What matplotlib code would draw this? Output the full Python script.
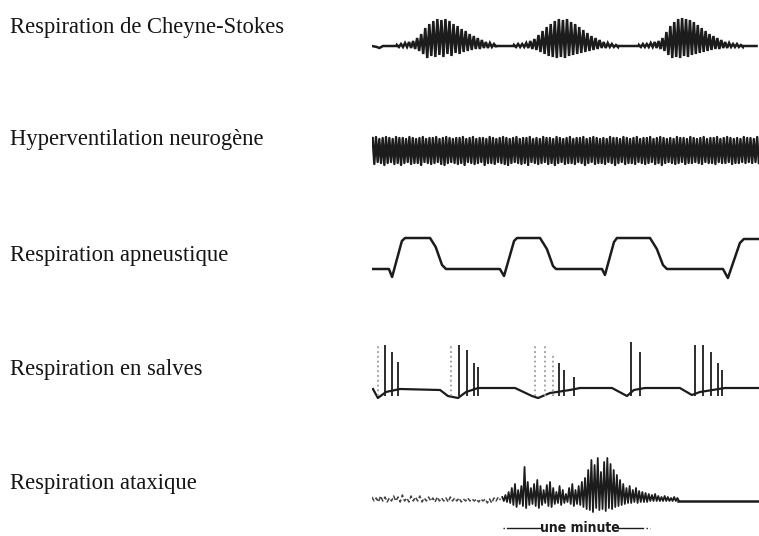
import numpy as np
import matplotlib.pyplot as plt

# libellés des cinq tracés
labels = ["Respiration de Cheyne-Stokes", "Hyperventilation neurogène",
          "Respiration apneustique", "Respiration en salves", "Respiration ataxique"]
label_y_px = [27, 140, 255, 369, 484]      # centre vertical des libellés
base_y_px = [46, 151, 269, 388, 500]       # ligne de base de chaque tracé

T_MAX = 158  # secondes visibles (une minute = 147 px)

# --- Cheyne-Stokes : trois salves, amplitude de chaque cycle (haut / bas)
cs_start = [10.6, 58.4, 109.4]
cs_end = [50.2, 100.0, 151.0]
cs_up = [
    [1, 2, 3, 4, 5, 8, 12, 18, 22, 25, 27, 26, 27, 25, 22, 20, 17, 15, 12, 10, 8, 6, 4, 3, 2],
    [1, 2, 2, 3, 5, 7, 11, 15, 19, 22, 25, 27, 26, 27, 24, 22, 19, 16, 13, 10, 8, 6, 4, 3, 2, 1],
    [1, 2, 2, 3, 4, 5, 8, 14, 20, 24, 27, 28, 27, 26, 24, 21, 18, 15, 12, 10, 8, 6, 4, 3, 2, 2, 1],
]
cs_down = [
    [1, 1, 1, 2, 3, 5, 8, 12, 10, 11, 9, 11, 8, 10, 7, 8, 6, 5, 4, 3, 3, 2, 2, 1, 1],
    [1, 1, 1, 2, 3, 4, 6, 8, 10, 11, 12, 11, 12, 10, 9, 8, 7, 6, 5, 4, 3, 2, 2, 1, 1, 1],
    [1, 1, 1, 1, 2, 3, 5, 9, 12, 11, 12, 10, 11, 9, 8, 7, 6, 5, 4, 3, 3, 2, 2, 1, 1, 1, 1],
]

# --- hyperventilation : cycles rapides et réguliers
hv_up = [13, 14, 12, 13, 14, 13, 12, 14, 13, 13, 12, 14, 13, 12, 13, 14, 12, 13, 13, 14,
         12, 13, 14, 13, 12, 13, 13, 14, 12, 13, 14, 12, 13, 13, 12, 14, 13, 12, 13, 14,
         13, 12, 13, 14, 12, 13, 13, 14, 12, 13, 12, 14, 13, 13, 12, 14, 13, 12, 13, 14,
         12, 13, 13, 14, 12, 13, 14, 13, 12, 13, 12, 14, 13, 13, 12, 14, 13, 12, 13, 14,
         12, 13, 13, 14, 12, 13, 14, 13, 12, 13, 12, 14, 13, 13, 12, 14, 13, 12, 13, 14,
         12, 13, 13, 14, 12, 13, 14, 13, 12, 13, 12, 14, 13, 13, 12, 14]
hv_down = [13, 11, 12, 14, 12, 11, 13, 12, 14, 12, 11, 13, 12, 12, 14, 11, 12, 13, 12, 11,
           13, 14, 12, 11, 12, 13, 12, 14, 11, 12, 13, 12, 11, 14, 12, 12, 13, 11, 12, 13,
           14, 12, 11, 12, 13, 12, 14, 11, 12, 13, 12, 11, 13, 12, 14, 12, 11, 13, 12, 12,
           13, 11, 12, 14, 12, 11, 13, 12, 12, 13, 11, 12, 14, 12, 11, 13, 12, 12, 13, 11,
           12, 13, 12, 11, 13, 12, 14, 12, 11, 12, 13, 12, 11, 13, 12, 12, 11, 12, 13, 11,
           12, 12, 13, 11, 12, 12, 11, 13, 12, 12, 11, 12, 11, 12, 11, 12]

# --- apneustique : points clés (temps s, amplitude)
apn_t = [0.4, 6.9, 8.2, 12.2, 13.5, 23.7, 26.0, 28.6, 30.2, 52.2, 53.9, 58.0, 59.2, 68.6,
         71.4, 73.9, 75.1, 93.9, 95.1, 98.8, 100.0, 113.5, 116.3, 118.8, 120.4, 143.3,
         145.3, 150.2, 151.8, 158.0]
apn_y = [0, 0, -8, 28, 31, 31, 22, 4, 0, 0, -7, 28, 31, 31, 20, 3, 0, 0, -6, 27, 31, 31,
         20, 4, 0, 0, -9, 26, 30, 30]

# --- en salves : ligne de base + pics
sal_t = [0.4, 2.4, 5.7, 11.4, 27.8, 31.0, 35.1, 38.4, 43.3, 58.4, 65.3, 67.8, 72.7, 80.8,
         84.9, 98.0, 104.1, 106.9, 111.4, 125.7, 130.6, 133.9, 144.1, 158.0]
sal_y = [-1, -10, -4, -1, -2, -8, -10, -4, 0, 0, -8, -10, -5, -2, 0, 0, -8, -2, 0, 0, -7,
         -4, 0, 0]
spike_t = [2.4, 5.3, 8.2, 10.6, 32.2, 35.5, 38.8, 41.6, 43.3, 66.5, 70.6, 73.9, 76.3, 78.4,
           82.4, 105.7, 109.4, 131.8, 135.1, 138.4, 141.2, 142.9]
spike_h = [43, 43, 36, 26, 43, 43, 38, 25, 21, 43, 43, 33, 25, 18, 11, 46, 36, 43, 43, 36,
           25, 18]
spike_faint = [1, 0, 0, 0, 1, 0, 0, 0, 0, 1, 1, 1, 0, 0, 0, 0, 0, 0, 0, 0, 0, 0]

# --- ataxique : petits cycles irréguliers, salve, puis plat
atx_pre_up = [3, 2, 4, 3, 2, 4, 3, 5, 2, 4, 3, 4, 2, 3, 2, 3, 2, 2, 3, 2, 2, 1, 2, 1, 1, 1,
              1, 1, 2, 3]
atx_pre_down = [1, 2, 1, 2, 1, 1, 2, 1, 2, 1, 1, 2, 1, 1, 2, 1, 1, 2, 1, 1, 2, 1, 1, 1, 2,
                1, 3, 3, 1, 0]
atx_up = [3, 5, 8, 12, 16, 10, 14, 33, 18, 12, 16, 20, 14, 10, 15, 18, 12, 8, 14, 10, 6, 12,
          16, 10, 14, 18, 22, 30, 40, 35, 42, 28, 38, 42, 36, 30, 25, 20, 16, 12, 14, 10,
          12, 9, 8, 7, 6, 5, 6, 4, 3, 4, 3, 2, 3, 2]
atx_down = [1, 2, 3, 5, 7, 4, 6, 8, 5, 4, 6, 8, 5, 3, 6, 7, 4, 3, 5, 3, 2, 4, 6, 4, 5, 7, 9,
            10, 12, 8, 10, 9, 11, 8, 9, 7, 6, 5, 4, 3, 3, 2, 3, 2, 2, 2, 1, 1, 1, 1, 1, 1,
            1, 1, 1, 1]
atx_pre_span = (0.4, 52.0)
atx_span = (53.5, 125.0)
minute_span = (53.5, 113.5)

INK = "#1c1c1c"


def cycles(t0, t1, up, down):
    # un cycle = un point haut puis un point bas
    t = np.linspace(t0, t1, len(up))
    dt = (t1 - t0) / max(len(up) - 1, 1)
    xs, ys = [], []
    for ti, u, d in zip(t, up, down):
        xs += [ti - dt / 4, ti + dt / 4]
        ys += [u, -d]
    return xs, ys


fig = plt.figure(figsize=(7.59, 5.36), dpi=100)
W, H = 759, 536

for lab, ly in zip(labels, label_y_px):
    fig.text(10 / W, 1 - ly / H, lab, family="Liberation Serif", fontsize=16.3,
             color="#151515", va="center", ha="left")

axes = []
for by in base_y_px:
    h = 110
    ax = fig.add_axes([372 / W, (H - by - h / 2) / H, 387 / W, h / H])
    ax.set_xlim(0, T_MAX)
    ax.set_ylim(-h / 2, h / 2)
    ax.axis("off")
    axes.append(ax)

# Cheyne-Stokes
xs, ys = [0.0, 2.0, 3.0, 4.5], [0, -1, -2, 0]
for s, e, u, d in zip(cs_start, cs_end, cs_up, cs_down):
    cx, cy = cycles(s, e, u, d)
    xs += [s - 0.5] + cx + [e + 0.5]
    ys += [0] + cy + [0]
xs += [T_MAX - 1]
ys += [0]
axes[0].plot(xs, ys, color=INK, lw=1.8, solid_joinstyle="miter")

# hyperventilation
hx, hy = cycles(0.6, T_MAX - 0.4, hv_up, hv_down)
axes[1].plot(hx, hy, color=INK, lw=1.7)

# apneustique
axes[2].plot(apn_t, apn_y, color=INK, lw=1.8)

# en salves
axes[3].plot(sal_t, sal_y, color=INK, lw=1.6)
for t, hgt, f in zip(spike_t, spike_h, spike_faint):
    axes[3].vlines(t, -8, hgt, color="#9a9a9a" if f else INK,
                   lw=1.3, linestyles=":" if f else "-")

# ataxique
px, py = cycles(*atx_pre_span, atx_pre_up, atx_pre_down)
axes[4].plot(px, py, color="#444444", lw=1.1, linestyle=(0, (3, 1.5)))
ax_, ay_ = cycles(*atx_span, atx_up, atx_down)
axes[4].plot(ax_, ay_, color=INK, lw=1.3)
axes[4].plot([atx_span[1], T_MAX], [-1, -1], color=INK, lw=1.8)

# échelle "une minute"
m0, m1 = minute_span
axes[4].plot([m0 + 1.5, m0 + 15.5], [-28, -28], color=INK, lw=1.0)
axes[4].plot([m0, m0 + 0.6], [-28, -28], color=INK, lw=1.0, linestyle=":")
axes[4].plot([m1 - 13, m1 - 3], [-28, -28], color=INK, lw=1.0)
axes[4].plot([m1 - 1.5, m1], [-28, -28], color=INK, lw=1.0, linestyle=":")
axes[4].text(m0 + 31.4, -28.5, "une minute", ha="center", va="center", fontsize=10,
             fontweight="bold", fontstretch="condensed", color=INK)

fig.savefig("out.png", dpi=100, facecolor="white")
